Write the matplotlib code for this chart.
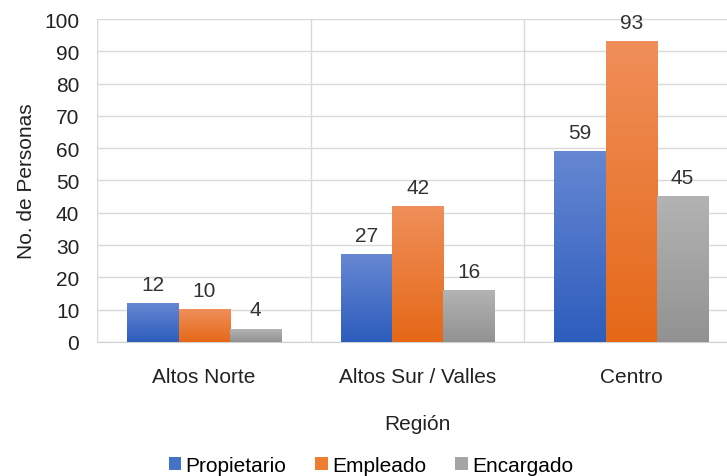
import numpy as np
import matplotlib.pyplot as plt
from matplotlib.colors import LinearSegmentedColormap

plt.rcParams['font.family'] = ['Liberation Sans', 'DejaVu Sans']

regiones = ['Altos Norte', 'Altos Sur / Valles', 'Centro']
series = ['Propietario', 'Empleado', 'Encargado']
propietario = [12, 27, 59]
empleado = [10, 42, 93]
encargado = [4, 16, 45]
valores = [propietario, empleado, encargado]

# (top colour, bottom colour) for the gradient fill
colores = [('#6687d2', '#2d5dbd'), ('#f08f5a', '#e56817'), ('#b3b3b3', '#929292')]
legend_colors = ['#4472c4', '#ed7d31', '#a5a5a5']

fig = plt.figure(figsize=(7.27, 4.77), dpi=100)
# right edge runs a bit past the image, like the original
ax = fig.add_axes([0.134, 0.281, 0.881, 0.677])

x = np.arange(len(regiones))
w = 0.24
grad = np.linspace(1, 0, 256).reshape(-1, 1)

for i, (nombre, vals) in enumerate(zip(series, valores)):
    pos = x + (i - 1) * w
    bars = ax.bar(pos, vals, w, color='none', edgecolor='none', zorder=3)
    cmap = LinearSegmentedColormap.from_list('g%d' % i, [colores[i][1], colores[i][0]])
    for b, v in zip(bars, vals):
        x0 = b.get_x()
        ax.imshow(grad, extent=[x0, x0 + w, 0, v], cmap=cmap, aspect='auto',
                  vmin=0, vmax=1, zorder=3)
        ax.text(b.get_x() + w / 2, v + 3, str(v), ha='center', va='bottom',
                fontsize=15, color='#333333', zorder=4)
    ax.bar([0], [0], color=legend_colors[i], label=nombre)

ax.set_xlim(-0.5, 2.5)
ax.set_ylim(0, 100)
ax.set_yticks(range(0, 101, 10))
ax.set_xticks(x)
ax.set_xticklabels(regiones)
ax.set_xticks([0.5, 1.5], minor=True)
ax.grid(axis='y', color='#d9d9d9', linewidth=1, zorder=0)
ax.grid(axis='x', which='minor', color='#d9d9d9', linewidth=1, zorder=0)
ax.axvline(-0.5, color='#d9d9d9', linewidth=1, zorder=0)
for s in ['top', 'right', 'left']:
    ax.spines[s].set_visible(False)
ax.spines['bottom'].set_color('#d0d0d0')
ax.tick_params(axis='both', which='both', length=0, labelsize=15, colors='#222222')
ax.tick_params(axis='x', pad=18)
ax.tick_params(axis='y', pad=13)
ax.set_ylabel('No. de Personas', fontsize=15, color='#222222', labelpad=6)
ax.set_xlabel('Región', fontsize=15, color='#222222', labelpad=20)

fig.legend(*ax.get_legend_handles_labels(), loc='center', bbox_to_anchor=(0.51, 0.022),
           ncol=3, frameon=False, fontsize=15, handlelength=0.6, handleheight=0.6,
           handletextpad=0.2, columnspacing=1.4)

fig.savefig('out.png', dpi=100)
